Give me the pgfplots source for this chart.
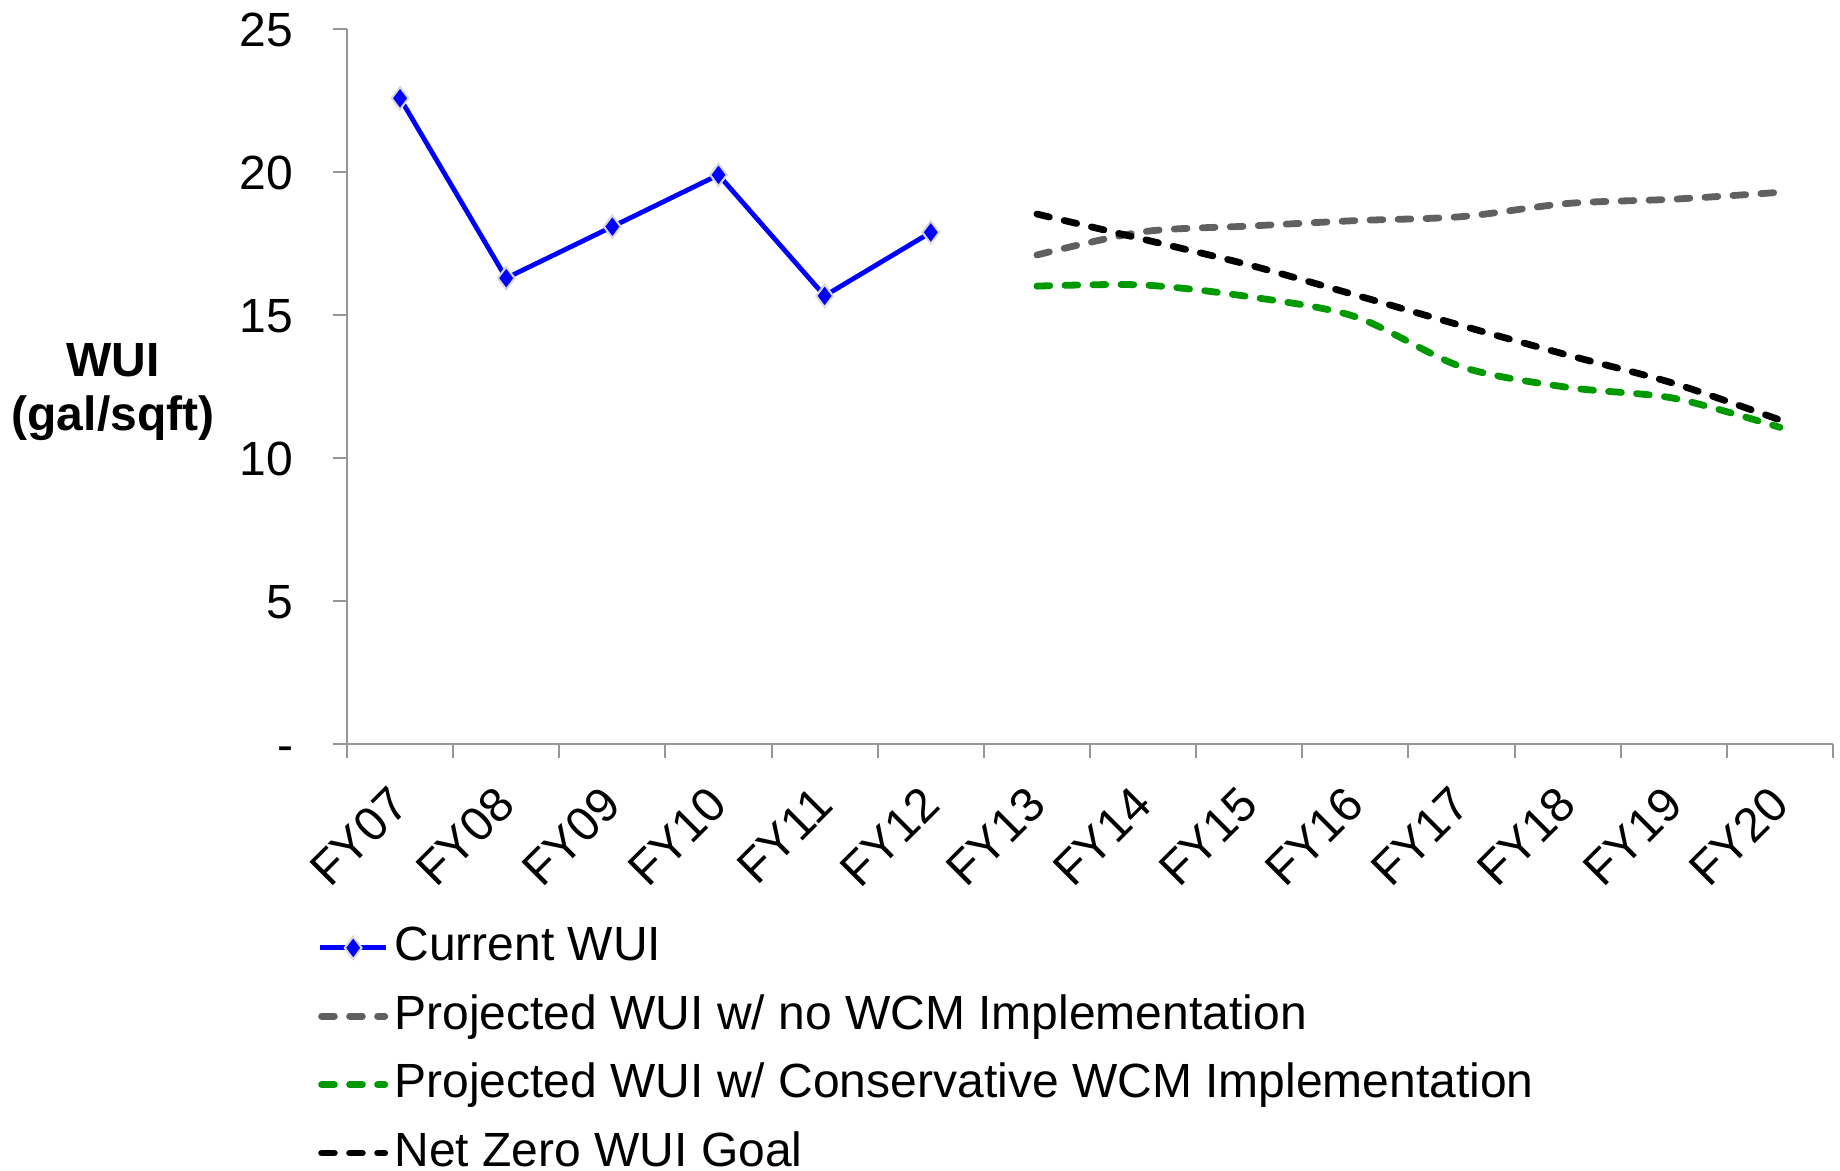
\documentclass[border=0pt]{standalone}
\usepackage{pgfplots}
\pgfplotsset{compat=1.18}
\usepackage{fontspec}
\setmainfont{Liberation Sans}
\definecolor{axgray}{RGB}{150,150,150}
\definecolor{projgray}{RGB}{96,96,96}
\definecolor{projgreen}{RGB}{0,153,0}
\newcommand{\chartfont}{\fontsize{12}{14}\selectfont}
\pgfplotsset{
  markleg/.style={legend image code/.code={\draw[##1, mark repeat=2, mark phase=2] plot coordinates {(0.5pt,0pt) (8.75pt,0pt) (17pt,0pt)};}},
  lineleg/.style={legend image code/.code={\draw[##1] (0.85pt,0pt) -- (16.65pt,0pt);}},
  dashstyle/.style={line width=1.7pt, dash pattern=on 3.2pt off 3.8pt, line cap=round, smooth},
}
\begin{document}
\begin{tikzpicture}
\begin{axis}[
  name=ax,
  scale only axis,
  width=371.5pt, height=178.75pt,
  xmin=-0.5, xmax=13.5, ymin=0, ymax=25,
  axis x line*=bottom, axis y line*=left,
  axis line style={axgray, line width=0.5pt},
  xtick={0,...,13},
  xticklabels={FY07,FY08,FY09,FY10,FY11,FY12,FY13,FY14,FY15,FY16,FY17,FY18,FY19,FY20},
  major x tick style={draw=none},
  minor xtick={-0.5,0.5,...,13.5},
  ytick={0,5,10,15,20,25},
  yticklabels={-,5,10,15,20,25},
  tick align=outside,
  tick style={axgray, line width=0.5pt},
  major tick length=3.5pt, minor tick length=3.5pt,
  /pgf/number format/assume math mode=true,
  tick label style={font=\chartfont},
  yticklabel style={anchor=east, inner sep=0pt, xshift=-9.8pt, text height=8.6pt, text depth=0pt},
  xticklabel style={yshift=-9.4pt, rotate=45, anchor=east, inner sep=0pt},
  every axis y label/.style={at={(axis description cs:0,0.5)}, anchor=center,
     xshift=-58.5pt, yshift=-1.5pt, align=center, font=\fontsize{12}{13.5}\selectfont\bfseries},
  ylabel={WUI\\(gal/sqft)},
  legend style={at={(axis description cs:-0.0202,-0.249)}, anchor=north west,
     draw=none, fill=none, inner sep=0pt, row sep=4.6pt, column sep=1.5pt,
     font=\chartfont, nodes={inner sep=0pt, text height=9.5pt, text depth=3pt}},
  legend cell align=left,
]
\addplot[color=blue, line width=1.2pt, mark=diamond*, mark size=2.8pt,
  mark options={fill=blue, draw=black!15, line width=0.5pt, solid}, markleg]
  coordinates {(0,22.58) (1,16.29) (2,18.09) (3,19.90) (4,15.67) (5,17.89)};
\addlegendentry{Current WUI}
\addplot[projgray, dashstyle, lineleg]
  coordinates {(6,17.10) (7,17.91) (8,18.11) (9,18.30) (10,18.44) (11,18.90) (12,19.05) (13,19.29)};
\addlegendentry{Projected WUI w/ no WCM Implementation}
\addplot[projgreen, dashstyle, lineleg]
  coordinates {(6,16.01) (7,16.05) (8,15.64) (9,14.94) (10,13.19) (11,12.47) (12,12.09) (13,11.07)};
\addlegendentry{Projected WUI w/ Conservative WCM Implementation}
\addplot[black, dashstyle, lineleg]
  coordinates {(6,18.53) (7,17.65) (8,16.75) (9,15.70) (10,14.63) (11,13.60) (12,12.61) (13,11.33)};
\addlegendentry{Net Zero WUI Goal}
\end{axis}
\pgfresetboundingbox
\path ([shift={(-86.75pt,-106.5pt)}]ax.south west) rectangle ([shift={(373.25pt,186pt)}]ax.south west);
\end{tikzpicture}
\end{document}
